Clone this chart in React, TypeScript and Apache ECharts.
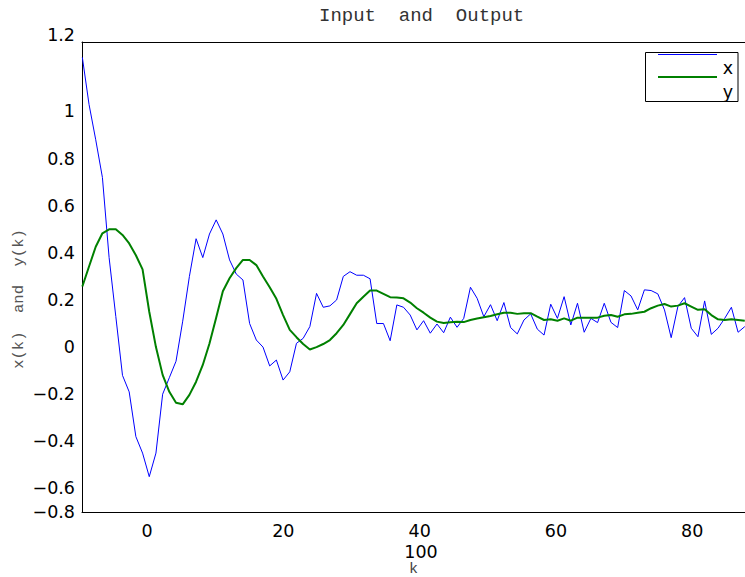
import React, { useEffect, useRef } from "react";
import * as echarts from "echarts";

const X_VALUES = [
  1.23, 1.03, 0.88, 0.72, 0.38, 0.13, -0.12, -0.19, -0.38, -0.45,
  -0.55, -0.45, -0.2, -0.13, -0.06, 0.11, 0.3, 0.46, 0.38, 0.48,
  0.54, 0.48, 0.37, 0.31, 0.285, 0.1, 0.03, 0.0, -0.08, -0.055,
  -0.14, -0.105, 0.016, 0.037, 0.087, 0.228, 0.169, 0.175, 0.2, 0.3,
  0.32, 0.305, 0.305, 0.29, 0.1, 0.1, 0.027, 0.179, 0.169, 0.136,
  0.073, 0.112, 0.059, 0.098, 0.061, 0.127, 0.084, 0.122, 0.254, 0.207,
  0.129, 0.18, 0.112, 0.189, 0.083, 0.056, 0.115, 0.141, 0.076, 0.051,
  0.182, 0.122, 0.214, 0.094, 0.186, 0.063, 0.122, 0.104, 0.186, 0.105,
  0.083, 0.24, 0.217, 0.158, 0.243, 0.24, 0.226, 0.158, 0.04, 0.172,
  0.21, 0.08, 0.044, 0.196, 0.054, 0.08, 0.122, 0.169, 0.063, 0.087,
];

const Y_VALUES = [
  0.257, 0.342, 0.426, 0.483, 0.5, 0.5, 0.476, 0.44, 0.39, 0.33,
  0.15, 0.0, -0.118, -0.19, -0.236, -0.243, -0.203, -0.147, -0.076, 0.015,
  0.125, 0.237, 0.292, 0.335, 0.37, 0.37, 0.348, 0.3, 0.254, 0.205,
  0.136, 0.073, 0.042, 0.013, -0.01, 0.0, 0.013, 0.03, 0.059, 0.094,
  0.14, 0.186, 0.214, 0.24, 0.24, 0.226, 0.212, 0.21, 0.207, 0.189,
  0.165, 0.146, 0.125, 0.108, 0.102, 0.105, 0.108, 0.106, 0.115, 0.121,
  0.127, 0.132, 0.139, 0.146, 0.146, 0.141, 0.144, 0.144, 0.129, 0.115,
  0.118, 0.112, 0.122, 0.112, 0.125, 0.125, 0.125, 0.125, 0.133, 0.136,
  0.129, 0.139, 0.141, 0.146, 0.15, 0.165, 0.176, 0.183, 0.172, 0.176,
  0.186, 0.172, 0.158, 0.161, 0.136, 0.118, 0.115, 0.118, 0.115, 0.112,
];

// Sample positions k: first sample and spacing
const K_START = -9.5;
const K_STEP = 0.982;

const X_TICKS = [0, 20, 40, 60, 80];
const X_MIN = -9.55;
const X_MAX = 87.75;
const Y_MIN = -0.7;
const Y_MAX = 1.295;
const Y_TICKS = [Y_MIN, -0.6, -0.4, -0.2, 0, 0.2, 0.4, 0.6, 0.8, 1, Y_MAX];
const Y_EDGE_LABELS = { min: "−0.8", max: "1.2" };

const TITLE = "Input  and  Output";
const Y_NAME = "x(k)  and  y(k)";
const X_NAME = "k";
const STRAY_LABEL = "100";
const SERIES_NAMES = ["x", "y"];
const COLORS = ["#0000ff", "#008000"];

const SANS = "DejaVu Sans";
const MONO = "Liberation Mono";

export default function App() {
  const ref = useRef<HTMLDivElement>(null);

  useEffect(() => {
    if (!ref.current) return;
    const chart = echarts.init(ref.current, undefined, { renderer: "svg" });
    const kValues = X_VALUES.map((_, i) => K_START + K_STEP * i);
    const xData = X_VALUES.map((v, i) => [kValues[i], v]);
    const yData = Y_VALUES.map((v, i) => [kValues[i], v]);

    const fmtY = (v: number) => {
      if (v <= Y_MIN + 1e-9) return Y_EDGE_LABELS.min;
      if (v >= Y_MAX - 1e-9) return "{top|" + Y_EDGE_LABELS.max + "}";
      const s = String(Math.round(v * 10) / 10);
      return s.replace("-", "−");
    };

    chart.setOption({
      animation: false,
      backgroundColor: "#ffffff",
      title: {
        text: TITLE,
        left: 319,
        top: 6,
        padding: 0,
        textStyle: {
          fontFamily: MONO,
          fontSize: 19,
          fontWeight: "normal",
          color: "#333333",
        },
      },
      grid: {
        left: 82,
        right: 0,
        top: 42,
        height: 470,
        show: false,
        containLabel: false,
        outerBoundsMode: "none",
      },
      xAxis: [
        {
          type: "value",
          min: X_MIN,
          max: X_MAX,
          position: "bottom",
          axisLine: { show: true, onZero: false, lineStyle: { color: "#000", width: 1 } },
          axisTick: { show: false },
          splitLine: { show: false },
          axisLabel: {
            customValues: X_TICKS,
            fontFamily: SANS,
            fontSize: 17.5,
            color: "#000",
            margin: 10,
            formatter: (v: number) => String(v),
          },
          name: X_NAME,
          nameLocation: "middle",
          nameGap: 50,
          nameTextStyle: { fontFamily: MONO, fontSize: 15, color: "#444444" },
        },
        {
          type: "value",
          min: X_MIN,
          max: X_MAX,
          position: "top",
          axisLine: { show: true, onZero: false, lineStyle: { color: "#000", width: 1 } },
          axisTick: { show: false },
          axisLabel: { show: false },
          splitLine: { show: false },
        },
      ],
      yAxis: {
        type: "value",
        min: Y_MIN,
        max: Y_MAX,
        axisLine: { show: true, onZero: false, lineStyle: { color: "#000", width: 1 } },
        axisTick: { show: false },
        splitLine: { show: false },
        axisLabel: {
          customValues: Y_TICKS,
          fontFamily: SANS,
          fontSize: 17.5,
          color: "#000",
          margin: 7,
          formatter: fmtY,
          rich: {
            top: {
              fontFamily: SANS,
              fontSize: 17.5,
              color: "#000",
              padding: [0, 0, 14, 0],
            },
          },
        },
      },
      series: [
        {
          name: SERIES_NAMES[0],
          type: "line",
          data: xData,
          showSymbol: false,
          symbol: "none",
          lineStyle: { color: COLORS[0], width: 1 },
          itemStyle: { color: COLORS[0] },
          z: 2,
        },
        {
          name: SERIES_NAMES[1],
          type: "line",
          data: yData,
          showSymbol: false,
          symbol: "none",
          lineStyle: { color: COLORS[1], width: 2 },
          itemStyle: { color: COLORS[1] },
          z: 3,
        },
      ],
      graphic: [
        {
          type: "text",
          x: 19,
          y: 299,
          rotation: Math.PI / 2,
          style: {
            text: Y_NAME,
            fontFamily: MONO,
            fontSize: 15.5,
            fill: "#555555",
            align: "center",
            verticalAlign: "middle",
          },
        },
        {
          type: "text",
          x: 421,
          y: 552,
          style: {
            text: STRAY_LABEL,
            fontFamily: SANS,
            fontSize: 17.5,
            fill: "#000",
            align: "center",
            verticalAlign: "middle",
          },
        },
        {
          type: "group",
          z: 100,
          children: [
            {
              type: "rect",
              shape: { x: 645.5, y: 52.5, width: 92.5, height: 49 },
              style: { fill: "#fff", stroke: "#000", lineWidth: 1 },
            },
            {
              type: "line",
              shape: { x1: 658, y1: 54.5, x2: 717, y2: 54.5 },
              style: { stroke: COLORS[0], lineWidth: 1 },
            },
            {
              type: "line",
              shape: { x1: 658, y1: 77, x2: 717, y2: 77 },
              style: { stroke: COLORS[1], lineWidth: 2 },
            },
            {
              type: "text",
              x: 728,
              y: 68,
              style: {
                text: SERIES_NAMES[0],
                fontFamily: SANS,
                fontSize: 17.5,
                fill: "#000",
                align: "center",
                verticalAlign: "middle",
              },
            },
            {
              type: "text",
              x: 728,
              y: 91.5,
              style: {
                text: SERIES_NAMES[1],
                fontFamily: SANS,
                fontSize: 17.5,
                fill: "#000",
                align: "center",
                verticalAlign: "middle",
              },
            },
          ],
        },
      ],
    });

    return () => chart.dispose();
  }, []);

  return (
    <div
      ref={ref}
      style={{ position: "fixed", left: 0, top: 0, width: 745, height: 577 }}
    />
  );
}
